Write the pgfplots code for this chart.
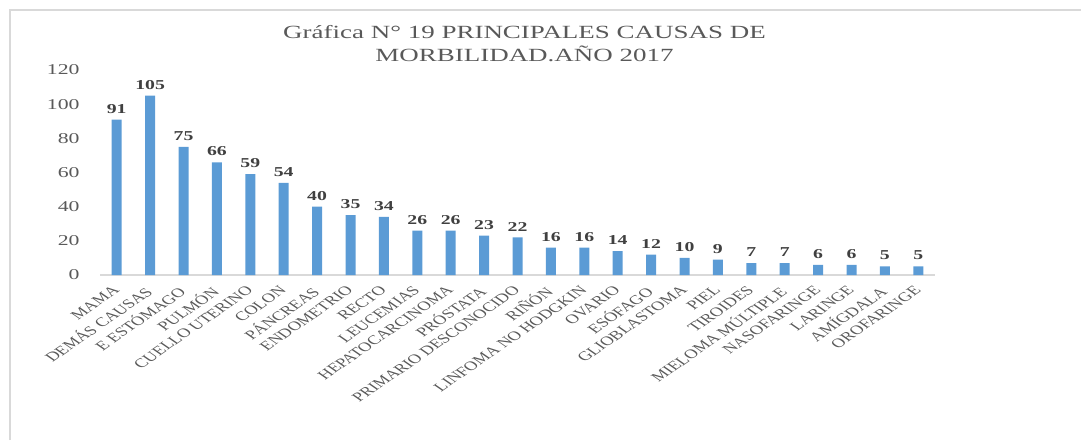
\documentclass[border=0pt]{standalone}
\usepackage{fontspec}
\setmainfont{Liberation Serif}[FakeStretch=1.45]
\newfontfamily\labfont{Liberation Serif}
\usepackage{graphicx}
\usepackage{pgfplots}
\pgfplotsset{compat=1.18}
\definecolor{barblue}{HTML}{5B9BD5}
\definecolor{txtgray}{HTML}{595959}
\definecolor{valgray}{HTML}{404040}
\definecolor{linegray}{HTML}{D9D9D9}
\newcommand\lab[1]{\scalebox{1.45}[1]{\rotatebox{45}{\labfont\fontsize{6.4}{7}\selectfont #1}}}
\begin{document}
\begin{tikzpicture}
\useasboundingbox (0,0) rectangle (540.5pt,220pt);
\draw[linegray, line width=1pt] (5pt,0) -- (5pt,215pt) -- (540.5pt,215pt);
\begin{axis}[
  at={(50pt,82.5pt)}, anchor=south west,
  scale only axis, width=417.5pt, height=102.5pt,
  xmin=-0.5, xmax=24.5, ymin=0, ymax=120,
  ytick={0,20,...,120},
  xtick={0,...,24},
  xticklabels={\lab{MAMA},\lab{DEMÁS CAUSAS},\lab{E ESTÓMAGO},\lab{PULMÓN},\lab{CUELLO UTERINO},\lab{COLON},\lab{PÁNCREAS},\lab{ENDOMETRIO},\lab{RECTO},\lab{LEUCEMIAS},\lab{HEPATOCARCINOMA},\lab{PRÓSTATA},\lab{PRIMARIO DESCONOCIDO},\lab{RIÑÓN},\lab{LINFOMA NO HODGKIN},\lab{OVARIO},\lab{ESÓFAGO},\lab{GLIOBLASTOMA},\lab{PIEL},\lab{TIROIDES},\lab{MIELOMA MÚLTIPLE},\lab{NASOFARINGE},\lab{LARINGE},\lab{AMÍGDALA},\lab{OROFARINGE}},
  axis lines*=left,
  x axis line style={linegray, line width=1pt},
  y axis line style={draw=none},
  major tick length=0pt,
  /pgf/number format/assume math mode=true,
  yticklabel style={font=\fontsize{7.5}{9}\selectfont, text=txtgray, anchor=east, inner sep=0pt, xshift=-10pt},
  xticklabel style={text=txtgray, anchor=north east, inner sep=0pt, xshift=2pt, yshift=-5pt},
  title={Gráfica N° 19 PRINCIPALES CAUSAS DE\\MORBILIDAD.AÑO 2017},
  title style={font=\fontsize{9.3}{11.5}\selectfont, text=txtgray, align=center, at={(0.5,1)}, anchor=south, inner sep=0pt, yshift=-2pt, xshift=3.5pt},
  nodes near coords,
  every node near coord/.append style={font=\bfseries\fontsize{6.8}{8}\selectfont, text=valgray, inner sep=2pt, yshift=1pt},
  clip=false,
]
\addplot[ybar, bar width=5pt, fill=barblue, draw=none] coordinates {
(0,91) (1,105) (2,75) (3,66) (4,59) (5,54) (6,40) (7,35) (8,34) (9,26) (10,26) (11,23) (12,22) (13,16) (14,16) (15,14) (16,12) (17,10) (18,9) (19,7) (20,7) (21,6) (22,6) (23,5) (24,5)};
\end{axis}
\end{tikzpicture}
\end{document}
